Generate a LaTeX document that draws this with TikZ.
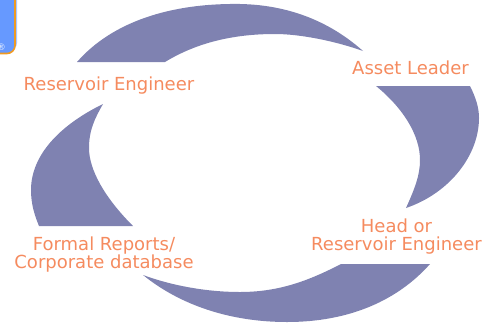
\documentclass[tikz,border=0pt]{standalone}
\usepackage{fontspec}
\setmainfont{DejaVu Sans}
\definecolor{arcblue}{HTML}{7F82B1}
\definecolor{labelorange}{HTML}{F58B5F}
\definecolor{boxblue}{HTML}{6699FF}
\definecolor{boxedge}{HTML}{F09A20}
\tikzset{
  arcshape/.style={fill=arcblue,draw=none},
  rolelabel/.style={text=labelorange,font=\fontsize{18}{18}\selectfont,align=center,inner sep=0pt,anchor=center},
}
\begin{document}
\begin{tikzpicture}[x=1pt,y=-1pt]
\useasboundingbox (0,0) rectangle (494,327);
% logo corner
\begin{scope}
\clip (0,0) rectangle (494,327);
\fill[boxblue!55!white,rounded corners=7pt] (-20,-10) rectangle (17,50);
\draw[fill=boxblue,draw=boxedge,line width=1.6pt,rounded corners=8pt] (-20,-12) rectangle (15,53.5);
\node[text=white!85!boxblue,font=\fontsize{9}{10}\selectfont,inner sep=0pt] (mark) at (1.5,47.5) {®};
\end{scope}
% top
\fill[arcshape] (77,62) .. controls (112,22) and (170,3) .. (240,4)
  .. controls (295,5) and (335,26) .. (363,51)
  .. controls (335,41) and (300,34) .. (275,34)
  .. controls (228,34) and (193,45) .. (165,62) -- cycle;
% right
\fill[arcshape] (376,86) -- (470,86)
  .. controls (476,98) and (479,108) .. (479,118)
  .. controls (479,155) and (450,193) .. (406,208)
  .. controls (415,188) and (420,175) .. (420,160)
  .. controls (420,135) and (403,108) .. (376,86) -- cycle;
% bottom
\fill[arcshape] (341,264) -- (430,264)
  .. controls (398,300) and (350,322) .. (287,322)
  .. controls (230,322) and (180,305) .. (143,275)
  .. controls (170,285) and (205,292) .. (240,292)
  .. controls (280,292) and (310,280) .. (341,264) -- cycle;
% left
\fill[arcshape] (133,226) -- (39,226)
  .. controls (34,214) and (31,203) .. (31,190)
  .. controls (31,155) and (60,125) .. (103,104)
  .. controls (95,118) and (89,130) .. (89,148)
  .. controls (89,170) and (105,198) .. (133,226) -- cycle;
% labels
\node[rolelabel] (re) at (109,86) {Reservoir Engineer};
\node[rolelabel] (al) at (410.5,68) {Asset Leader};
\node[rolelabel] (head) at (396.5,237) {Head or\\Reservoir Engineer};
\node[rolelabel] (formal) at (104,255) {Formal Reports/\\Corporate database};
\end{tikzpicture}
\end{document}
